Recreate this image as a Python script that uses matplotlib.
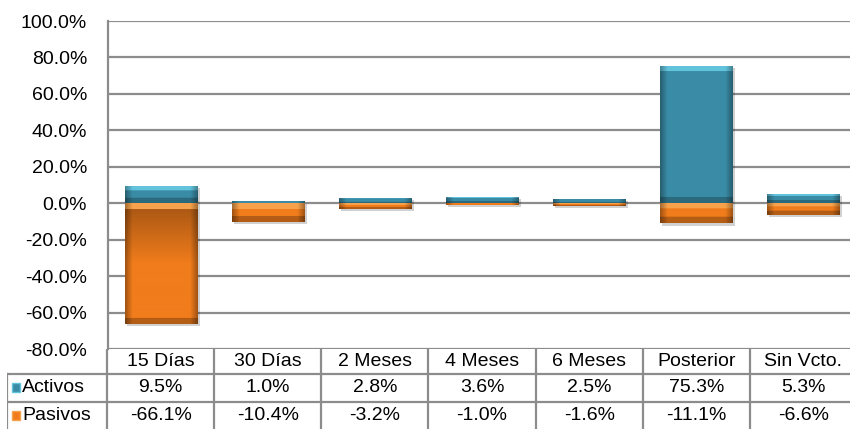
"""Activos vs Pasivos by maturity bucket, with data table underneath."""

import matplotlib

matplotlib.use("Agg")
import matplotlib.pyplot as plt
import numpy as np
from matplotlib.patches import Rectangle
from matplotlib.colors import to_rgb


CATEGORIES = ["15 Días", "30 Días", "2 Meses", "4 Meses", "6 Meses", "Posterior", "Sin Vcto."]
ACTIVOS = [9.5, 1.0, 2.8, 3.6, 2.5, 75.3, 5.3]
PASIVOS = [-66.1, -10.4, -3.2, -1.0, -1.6, -11.1, -6.6]
SERIES = ["Activos", "Pasivos"]

TEAL = "#3a8ca6"
TEAL_HI = "#62c3dc"
ORANGE = "#f07c1c"
ORANGE_HI = "#f7a24c"
GRID = "#8c8c8c"
FONT = "Liberation Sans"
FS = 14

W, H, DPI = 850, 429, 100
BAR_W = 0.68


def px(x0, y0, x1, y1):
    # pixel box (top-left origin) -> figure fraction rect
    return [x0 / W, (H - y1) / H, (x1 - x0) / W, (y1 - y0) / H]


def bar_image(color, hi, hpx, wpx, positive):
    base = np.array(to_rgb(color))
    light = np.array(to_rgb(hi))
    hpx = max(int(round(hpx)), 2)
    wpx = max(int(round(wpx)), 2)
    xs = np.linspace(0, 1, wpx)
    # darker near left/right edges
    horiz = 1.0 - 0.32 * np.clip(1 - np.minimum(xs, 1 - xs) / 0.1, 0, 1)
    img = np.ones((hpx, wpx, 3)) * base * horiz[None, :, None]
    bev = min(6, hpx // 3)
    if bev > 0:
        img[:bev] = light * horiz[None, :, None]
        img[-bev:] *= 0.75
        if not positive and hpx > 20:
            # brownish shading just below the top highlight
            n = int(hpx * 0.45)
            img[bev:bev + n] *= np.linspace(0.72, 1.0, n)[:, None, None]
    return np.clip(img, 0, 1)


def draw_bar(ax, x, val, color, hi, ypx):
    y0, y1 = (0, val) if val >= 0 else (val, 0)
    # soft shadow
    ax.add_patch(Rectangle((x - BAR_W / 2 + 0.02, y0 - 1.2), BAR_W, y1 - y0,
                           facecolor="black", alpha=0.18, edgecolor="none", zorder=2))
    rect = ax.bar(x, val, width=BAR_W, color=color, edgecolor="none", zorder=3)[0]
    hpx = abs(val) * ypx
    img = bar_image(color, hi, hpx, BAR_W * 107, val >= 0)
    im = ax.imshow(img, extent=(x - BAR_W / 2, x + BAR_W / 2, y0, y1),
                   aspect="auto", zorder=4, interpolation="bilinear")
    im.set_clip_path(rect)


fig = plt.figure(figsize=(W / DPI, H / DPI), dpi=DPI)
plt.rcParams["font.family"] = [FONT, "DejaVu Sans"]

ax = fig.add_axes(px(108, 21, 857, 349))
n = len(CATEGORIES)
xpos = np.arange(n)
ypx = (349 - 21) / 180.0

for i in xpos:
    draw_bar(ax, i, ACTIVOS[i], TEAL, TEAL_HI, ypx)
for i in xpos:
    draw_bar(ax, i, PASIVOS[i], ORANGE, ORANGE_HI, ypx)

ax.set_xlim(-0.5, n - 0.5)
ax.set_ylim(-80, 100)
ax.set_yticks(np.arange(-80, 101, 20))
ax.set_yticklabels([f"{v:.1f}%" for v in np.arange(-80, 101, 20)], fontsize=FS, color="black")
ax.set_xticks([])
ax.tick_params(axis="y", length=0, pad=15)
ax.yaxis.grid(True, color=GRID, linewidth=1.6, zorder=1)
ax.set_axisbelow(True)
for s in ["top", "right", "bottom"]:
    ax.spines[s].set_visible(False)
ax.spines["left"].set_color(GRID)
ax.spines["left"].set_linewidth(1.6)

# data table
hdr = 100 / 107
tax = fig.add_axes(px(7, 349, 857, 429))
tax.set_xlim(-0.5 - hdr, n - 0.5)
tax.set_ylim(0, 80)
tax.axis("off")
lk = dict(color=GRID, linewidth=1.6, solid_capstyle="projecting")
tax.plot([-0.5 - hdr, n - 0.5], [55, 55], **lk)
tax.plot([-0.5 - hdr, n - 0.5], [27, 27], **lk)
tax.plot([-0.5 - hdr, -0.5 - hdr], [-1, 55], **lk)
for k in range(n + 1):
    tax.plot([k - 0.5, k - 0.5], [-1, 80], **lk)

for i, cat in enumerate(CATEGORIES):
    tax.text(i, 67, cat, ha="center", va="center", fontsize=FS)
    tax.text(i, 41, f"{ACTIVOS[i]:.1f}%", ha="center", va="center", fontsize=FS)
    tax.text(i, 13.5, f"{PASIVOS[i]:.1f}%", ha="center", va="center", fontsize=FS)

for name, yc, color, hi in [(SERIES[0], 41, TEAL, TEAL_HI), (SERIES[1], 13.5, ORANGE, ORANGE_HI)]:
    x0 = -0.5 - hdr + 5 / 107
    tax.add_patch(Rectangle((x0, yc - 4), 8 / 107, 9, facecolor=color, edgecolor=hi, linewidth=1))
    tax.text(x0 + 10 / 107, yc, name, ha="left", va="center", fontsize=FS)

fig.savefig("out.png", dpi=DPI)
